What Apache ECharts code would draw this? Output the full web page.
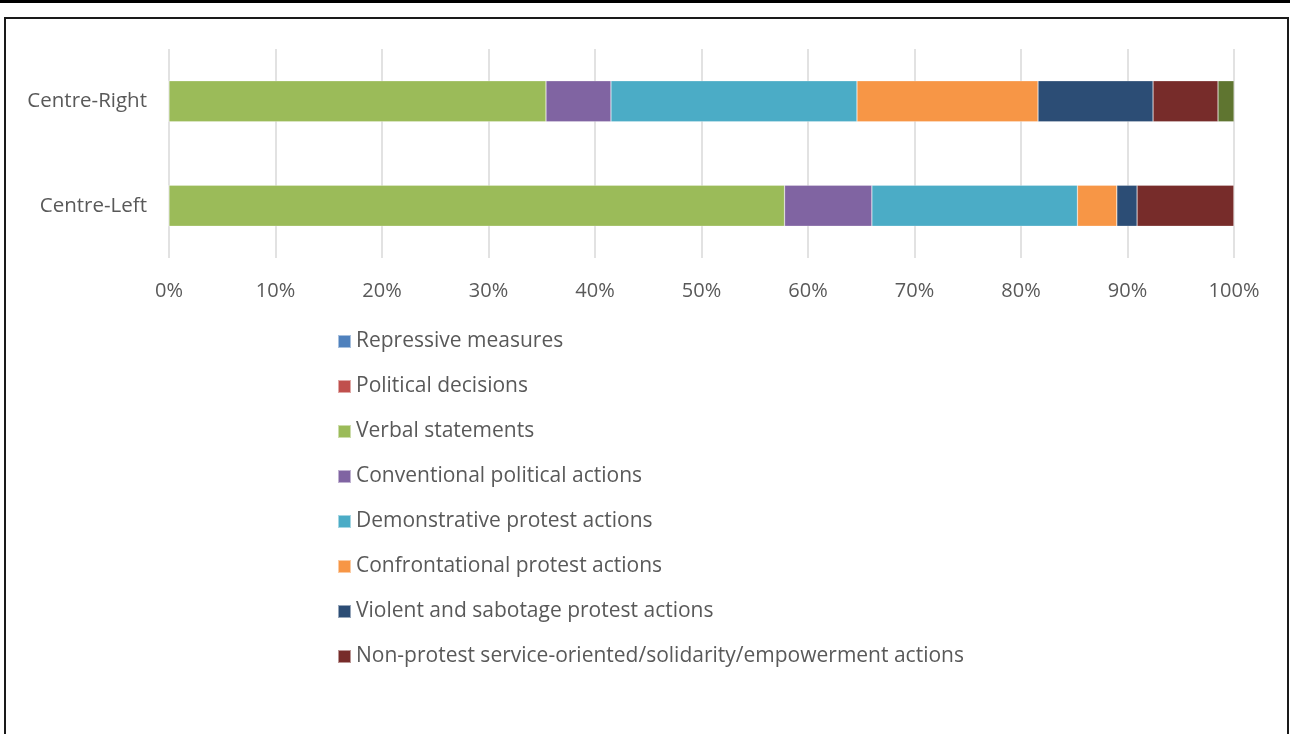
<!DOCTYPE html>
<html>
<head>
<meta charset="utf-8">
<script src="https://cdn.jsdelivr.net/npm/echarts@6/dist/echarts.min.js"></script>
<style>
html,body{margin:0;padding:0;background:#fff;}
#wrap{position:relative;width:1290px;height:734px;overflow:hidden;}
#topline{position:absolute;left:0;top:0;width:1290px;height:3px;background:#000;}
#box{position:absolute;left:4px;top:17px;width:1285px;height:740px;border:2px solid #1a1a1a;box-sizing:border-box;}
#chart{position:absolute;left:0;top:0;width:1290px;height:734px;}
</style>
</head>
<body>
<div id="wrap">
<div id="chart"></div>
<div id="topline"></div>
<div id="box"></div>
</div>
<script>
// Data (percent shares, bottom category first)
const categories = ['Centre-Left', 'Centre-Right'];
const seriesNames = [
  'Repressive measures',
  'Political decisions',
  'Verbal statements',
  'Conventional political actions',
  'Demonstrative protest actions',
  'Confrontational protest actions',
  'Violent and sabotage protest actions',
  'Non-protest service-oriented/solidarity/empowerment actions',
  'Other'
];
const repressive      = [0, 0];
const political       = [0, 0];
const verbal          = [57.8, 35.4];
const conventional    = [8.2, 6.1];
const demonstrative   = [19.3, 23.1];
const confrontational = [3.7, 17.0];
const violent         = [1.9, 10.8];
const nonProtest      = [9.1, 6.1];
const other           = [0, 1.5];
const xTickLabels = ['0%','10%','20%','30%','40%','50%','60%','70%','80%','90%','100%'];

const values = [repressive, political, verbal, conventional, demonstrative, confrontational, violent, nonProtest, other];
const colors = ['#4f81bd','#c0504d','#9bbb59','#8064a2','#4bacc6','#f79646','#2c4d75','#772c2a','#5f7530'];

const font = '"Open Sans", "Liberation Sans", Arial, sans-serif';
const textColor = '#595959';

const chart = echarts.init(document.getElementById('chart'), null, {renderer: 'canvas'});
chart.setOption({
  animation: false,
  textStyle: {fontFamily: font},
  grid: {left: 169, right: 56, top: 49, bottom: 734 - 258, containLabel: false},
  xAxis: {
    type: 'value', min: 0, max: 100, interval: 10,
    axisLine: {show: false}, axisTick: {show: false},
    splitLine: {show: true, lineStyle: {color: '#d9d9d9', width: 1.5}},
    axisLabel: {
      color: textColor, fontSize: 20, fontFamily: font, margin: 23,
      formatter: function (v) { return xTickLabels[Math.round(v / 10)]; }
    }
  },
  yAxis: {
    type: 'category', data: categories,
    axisLine: {show: false}, axisTick: {show: false},
    axisLabel: {color: textColor, fontSize: 20.5, fontFamily: font, margin: 22}
  },
  legend: {
    orient: 'vertical', left: 332, top: 326,
    itemWidth: 13, itemHeight: 13, itemGap: 24, icon: 'rect',
    textStyle: {color: textColor, fontSize: 21, fontFamily: font, padding: [0, 0, 0, 0]},
    data: seriesNames.slice(0, 8)
  },
  series: seriesNames.map(function (name, i) {
    return {
      name: name, type: 'bar', stack: 'total', barWidth: 41,
      itemStyle: {color: colors[i], borderColor: 'rgba(255,255,255,0.5)', borderWidth: 0.5},
      data: values[i]
    };
  })
});
</script>
</body>
</html>
